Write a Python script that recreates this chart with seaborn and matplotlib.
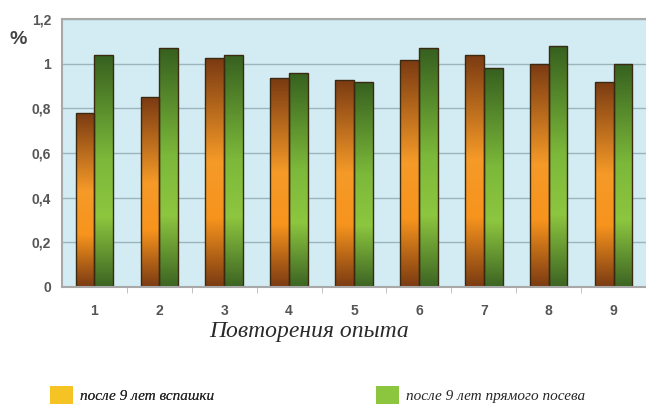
import numpy as np
import pandas as pd
import seaborn as sns
import matplotlib.pyplot as plt
from matplotlib.colors import LinearSegmentedColormap
from matplotlib.patches import Patch

# Data
repeats = ["1", "2", "3", "4", "5", "6", "7", "8", "9"]
after_plowing = [0.78, 0.85, 1.025, 0.935, 0.927, 1.017, 1.04, 1.0, 0.918]
after_direct = [1.04, 1.07, 1.04, 0.96, 0.918, 1.07, 0.98, 1.08, 1.0]
series_names = ["после 9 лет вспашки", "после 9 лет прямого посева"]
y_ticks = [0, 0.2, 0.4, 0.6, 0.8, 1.0, 1.2]

df = pd.DataFrame({
    "Повтор": repeats * 2,
    "value": after_plowing + after_direct,
    "series": [series_names[0]] * 9 + [series_names[1]] * 9,
})

sns.set_style("white")
plt.rcParams["font.family"] = ["Liberation Sans", "DejaVu Sans"]

fig = plt.figure(figsize=(6.46, 4.08), dpi=100)
ax = fig.add_axes([62 / 646, 1 - 287 / 408, 584 / 646, 268 / 408])
ax.set_facecolor("#d3ebf3")

sns.barplot(data=df, x="Повтор", y="value", hue="series", hue_order=series_names,
            palette=["#f7941d", "#8dc63f"], width=0.58, legend=False, ax=ax,
            edgecolor="#3b2a12", linewidth=1.0)

ax.set_ylim(0, 1.2)
ax.set_xlim(-0.5, 8.5)
ax.set_yticks(y_ticks)
ax.set_yticklabels([f"{t:g}".replace(".", ",") for t in y_ticks])
ax.yaxis.grid(True, color="#9cb5bd", linewidth=1.0)
ax.set_axisbelow(True)

# vertical gradients in the bars: dark at top and bottom, bright lower middle
grad_orange = LinearSegmentedColormap.from_list(
    "o", [(0, "#7a3a12"), (0.3, "#f7941d"), (0.55, "#f59a28"), (1, "#7a3a12")])
grad_green = LinearSegmentedColormap.from_list(
    "g", [(0, "#3c6423"), (0.3, "#8dc63f"), (0.55, "#7cb83a"), (1, "#36601f")])
grad = np.linspace(0, 1, 256).reshape(-1, 1)

bars = [p for p in ax.patches]
for i, p in enumerate(bars):
    cmap = grad_orange if i < len(repeats) else grad_green
    x0, y0 = p.get_x(), p.get_y()
    w, h = p.get_width(), p.get_height()
    im = ax.imshow(grad, cmap=cmap, extent=[x0, x0 + w, y0, y0 + h],
                   origin="lower", aspect="auto", zorder=p.get_zorder() + 0.1)
    im.set_clip_path(p)
    p.set_zorder(p.get_zorder() + 0.2)
    p.set_facecolor("none")

ax.set_xlim(-0.5, 8.5)
ax.set_ylim(0, 1.2)

for side in ["left", "bottom", "top"]:
    ax.spines[side].set_visible(True)
    ax.spines[side].set_color("#a8a8a8")
    ax.spines[side].set_linewidth(1.5)
ax.spines["right"].set_visible(False)

ax.set_xticks(np.arange(0.5, 8.5, 1.0), minor=True)
ax.tick_params(axis="x", which="minor", length=4, color="#b8b8b8", bottom=True)
ax.tick_params(axis="x", which="major", length=0, pad=12)
ax.tick_params(axis="y", length=0, pad=8)
for lab in ax.get_xticklabels() + ax.get_yticklabels():
    lab.set_fontsize(10)
    lab.set_fontweight("bold")
    lab.set_color("#555555")

ax.set_xlabel("")
ax.set_ylabel("")
fig.text(18 / 646, 1 - 40 / 408, "%", fontsize=14, fontweight="bold",
         color="#444444", ha="center", va="center")
fig.text(309 / 646, 1 - 332 / 408, "Повторения опыта", fontsize=17,
         style="italic", family="Liberation Serif", color="#2a2a2a",
         ha="center", va="center")

handles = [Patch(facecolor="#f6c325", edgecolor="none"),
           Patch(facecolor="#8cc63f", edgecolor="none")]
leg1 = fig.legend([handles[0]], [series_names[0]], loc="center left",
                  bbox_to_anchor=(36 / 646, 1 - 395 / 408), frameon=False,
                  handlelength=1.5, handleheight=1.5, handletextpad=0.5,
                  prop={"family": "Liberation Serif", "style": "italic", "size": 11})
fig.legend([handles[1]], [series_names[1]], loc="center left",
           bbox_to_anchor=(362 / 646, 1 - 395 / 408), frameon=False,
           handlelength=1.5, handleheight=1.5, handletextpad=0.5,
           prop={"family": "Liberation Serif", "style": "italic", "size": 11})
fig.add_artist(leg1)

fig.savefig("out.png", dpi=100)
